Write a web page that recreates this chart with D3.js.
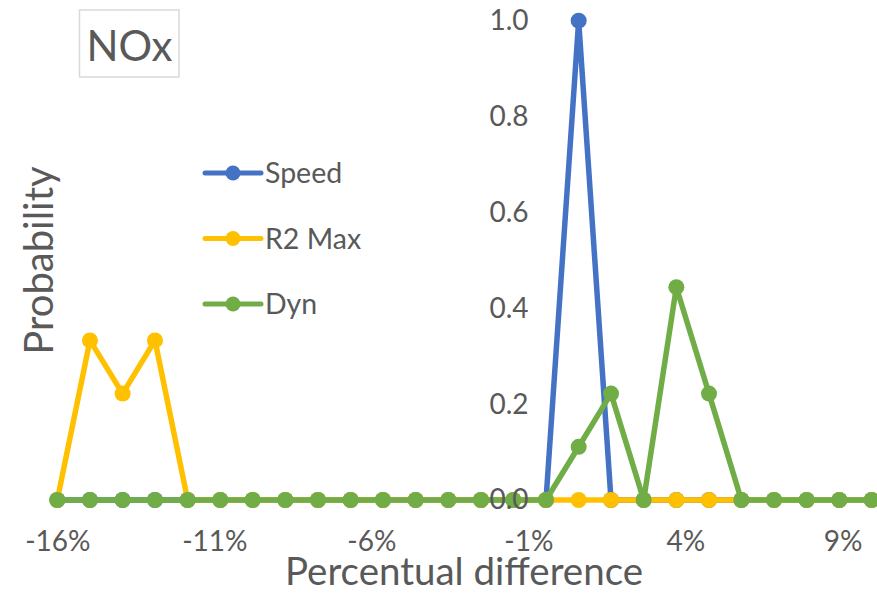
<!DOCTYPE html>
<html>
<head>
<meta charset="utf-8">
<script src="https://cdn.jsdelivr.net/npm/d3@7"></script>
<style>
  html, body { margin: 0; padding: 0; background: #fff; }
  svg { display: block; }
  text { font-family: Lato, "Open Sans", sans-serif; fill: #595959; }
</style>
</head>
<body>
<svg id="chart" width="877" height="593"></svg>
<script>
// Bin centres of the percentual difference (in %)
const xValues = [-15.56, -14.52, -13.48, -12.45, -11.41, -10.37, -9.34, -8.30, -7.26, -6.22,
                 -5.19, -4.15, -3.11, -2.07, -1.04, 0, 1.04, 2.07, 3.11, 4.15,
                 5.19, 6.22, 7.26, 8.30, 9.34, 10.37];

// Probability per bin for each method
const speedValues = [0, 0, 0, 0, 0, 0, 0, 0, 0, 0, 0, 0, 0, 0, 0,
                     0, 1.0, 0, 0, 0, 0, 0, 0, 0, 0, 0];
const r2MaxValues = [0, 0.333, 0.222, 0.333, 0, 0, 0, 0, 0, 0, 0, 0, 0, 0, 0,
                     0, 0, 0, 0, 0, 0, 0, 0, 0, 0, 0];
const dynValues   = [0, 0, 0, 0, 0, 0, 0, 0, 0, 0, 0, 0, 0, 0, 0,
                     0, 0.111, 0.222, 0, 0.444, 0.222, 0, 0, 0, 0, 0];

const seriesNames  = ["Speed", "R2 Max", "Dyn"];
const seriesColors = ["#4472C4", "#FFC000", "#70AD47"];

// Horizontal axis ticks (major unit 5 % from the axis minimum) and their labels
const xTickValues = [-15.56, -10.56, -5.56, -0.56, 4.44, 9.44];
const xTickLabels = ["-16%", "-11%", "-6%", "-1%", "4%", "9%"];
const yTickValues = [0, 0.2, 0.4, 0.6, 0.8, 1.0];

const series = [speedValues, r2MaxValues, dynValues].map((vals, k) => ({
  name: seriesNames[k],
  color: seriesColors[k],
  points: vals.map((v, i) => ({ x: xValues[i], y: v }))
}));

const svg = d3.select("#chart");

const x = d3.scaleLinear()
  .domain([xValues[0], xValues[xValues.length - 1]])
  .range([57.3, 871.7]);
const y = d3.scaleLinear().domain([0, 1]).range([500, 20.7]);

const line = d3.line().x(d => x(d.x)).y(d => y(d.y));

// Series lines with circular markers (drawn in order, Dyn on top)
series.forEach(s => {
  const g = svg.append("g");
  g.append("path")
    .datum(s.points)
    .attr("d", line)
    .attr("fill", "none")
    .attr("stroke", s.color)
    .attr("stroke-width", 5.5)
    .attr("stroke-linejoin", "round");
  g.selectAll("circle")
    .data(s.points)
    .join("circle")
    .attr("cx", d => x(d.x))
    .attr("cy", d => y(d.y))
    .attr("r", 8)
    .attr("fill", s.color);
});

// Value axis crossing the horizontal axis at 0 %
const yAxis = d3.axisLeft(y)
  .tickValues(yTickValues)
  .tickFormat(d3.format(".1f"))
  .tickSize(0)
  .tickPadding(17.5);
const gy = svg.append("g")
  .attr("transform", `translate(${x(0)},0)`)
  .call(yAxis);
gy.select(".domain").remove();
gy.selectAll("text")
  .attr("font-family", "Lato, 'Open Sans', sans-serif")
  .attr("font-size", 28)
  .attr("fill", "#595959");

// Horizontal axis labels
const xAxis = d3.axisBottom(x)
  .tickValues(xTickValues)
  .tickFormat((d, i) => xTickLabels[i])
  .tickSize(0)
  .tickPadding(31);
const gx = svg.append("g")
  .attr("transform", `translate(0,${y(0)})`)
  .call(xAxis);
gx.select(".domain").remove();
gx.selectAll("text")
  .attr("font-family", "Lato, 'Open Sans', sans-serif")
  .attr("font-size", 28)
  .attr("fill", "#595959");

// Axis titles
svg.append("text")
  .attr("x", 464)
  .attr("y", 584.5)
  .attr("text-anchor", "middle")
  .attr("font-size", 38.5)
  .text("Percentual difference");

svg.append("text")
  .attr("transform", "translate(53,260.5) rotate(-90)")
  .attr("text-anchor", "middle")
  .attr("font-size", 40)
  .text("Probability");

// Title box
svg.append("rect")
  .attr("x", 79.5).attr("y", 10)
  .attr("width", 99.5).attr("height", 67)
  .attr("fill", "#fff")
  .attr("stroke", "#d9d9d9")
  .attr("stroke-width", 1.5);
svg.append("text")
  .attr("x", 129.5)
  .attr("y", 61)
  .attr("text-anchor", "middle")
  .attr("font-size", 42)
  .text("NOx");

// Legend
const legend = svg.append("g");
series.forEach((s, i) => {
  const ly = 173 + i * 65.5;
  legend.append("line")
    .attr("x1", 205).attr("x2", 261)
    .attr("y1", ly).attr("y2", ly)
    .attr("stroke", s.color)
    .attr("stroke-width", 5)
    .attr("stroke-linecap", "round");
  legend.append("circle")
    .attr("cx", 233).attr("cy", ly)
    .attr("r", 7.5)
    .attr("fill", s.color);
  legend.append("text")
    .attr("x", 265)
    .attr("y", ly)
    .attr("dy", "0.36em")
    .attr("font-size", 28.5)
    .text(s.name);
});
</script>
</body>
</html>
